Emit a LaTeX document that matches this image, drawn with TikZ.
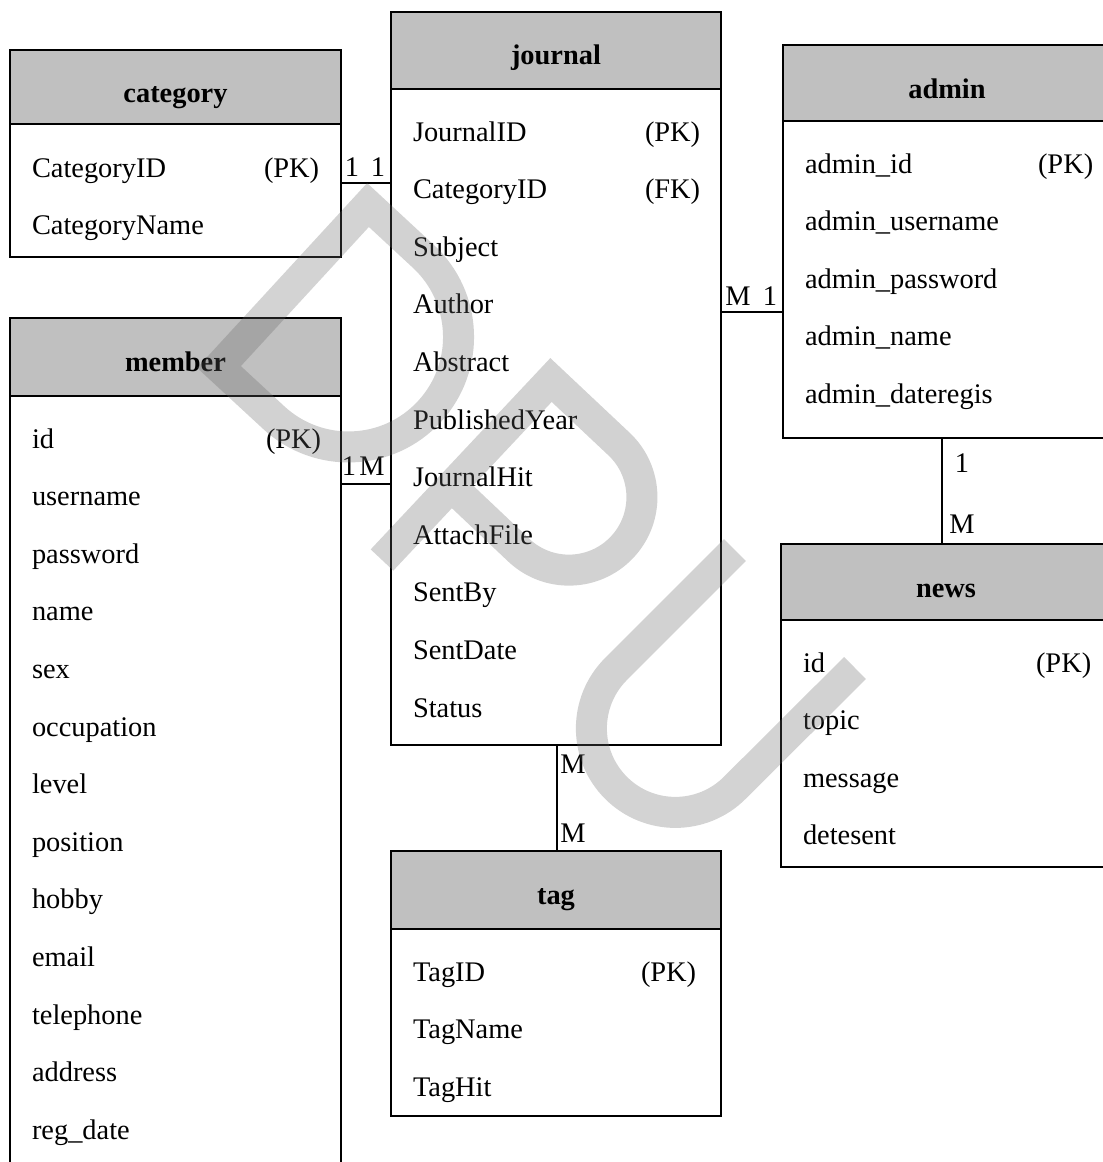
\documentclass[tikz,border=0pt]{standalone}
\usepackage{fontspec}
\setmainfont{Liberation Serif}
\usepackage{tikz}
\usetikzlibrary{positioning}

\definecolor{headgray}{RGB}{192,192,192}
\definecolor{markgray}{RGB}{102,102,102}

\begin{document}
\begin{tikzpicture}[x=1bp, y=-1bp, line width=2bp,
  every node/.style={font=\fontsize{28.5}{34}\selectfont, inner sep=0pt},
  head/.style={draw, fill=headgray, outer sep=0pt, anchor=north west},
  body/.style={draw, fill=white, outer sep=0pt},
  title/.style={anchor=base, font=\fontsize{28.5}{34}\selectfont\bfseries},
  field/.style={anchor=base west},
  card/.style={anchor=base}]
  \useasboundingbox (0,0) rectangle (1103,1162);
  \clip (0,0) rectangle (1103,1162);

  % category
  \node[head, minimum width=331bp, minimum height=74bp] (cathead) at (10,50) {};
  \node[body, minimum width=331bp, minimum height=133bp, below=0pt of cathead] (catbody) {};
  \node[title] (cattitle) at (175.5,102) {category};
  \node[field] (c1) at (31,177) {CategoryID};
  \node[field] (cpk) at (263,177) {(PK)};
  \node[field] (c2) at (31,234.6) {CategoryName};

  % journal
  \node[head, minimum width=330bp, minimum height=77bp] (jhead) at (391,12) {};
  \node[body, minimum width=330bp, minimum height=656bp, below=0pt of jhead] (jbody) {};
  \node[title] (jtitle) at (556,64) {journal};
  \node[field] (j1) at (412,141) {JournalID};
  \node[field] (jpk) at (644,141) {(PK)};
  \node[field] (j2) at (412,198.6) {CategoryID};
  \node[field] (jfk) at (644,198.6) {(FK)};
  \node[field] (j3) at (412,256.2) {Subject};
  \node[field] (j4) at (412,313.8) {Author};
  \node[field] (j5) at (412,371.4) {Abstract};
  \node[field] (j6) at (412,429) {PublishedYear};
  \node[field] (j7) at (412,486.6) {JournalHit};
  \node[field] (j8) at (412,544.2) {AttachFile};
  \node[field] (j9) at (412,601.8) {SentBy};
  \node[field] (j10) at (412,659.4) {SentDate};
  \node[field] (j11) at (412,717) {Status};

  % admin
  \node[head, minimum width=328bp, minimum height=76bp] (ahead) at (783,45) {};
  \node[body, minimum width=328bp, minimum height=317bp, below=0pt of ahead] (abody) {};
  \node[title] (atitle) at (947,98) {admin};
  \node[field] (a1) at (804,173) {admin\_id};
  \node[field] (apk) at (1037,173) {(PK)};
  \node[field] (a2) at (804,230.6) {admin\_username};
  \node[field] (a3) at (804,288.2) {admin\_password};
  \node[field] (a4) at (804,345.8) {admin\_name};
  \node[field] (a5) at (804,403.4) {admin\_dateregis};

  % member
  \node[head, minimum width=331bp, minimum height=78bp] (mhead) at (10,318) {};
  \node[body, minimum width=331bp, minimum height=800bp, below=0pt of mhead] (mbody) {};
  \node[title] (mtitle) at (175.5,371) {member};
  \node[field] (m1) at (31,448) {id};
  \node[field] (mpk) at (265,448) {(PK)};
  \node[field] (m2) at (31,505.6) {username};
  \node[field] (m3) at (31,563.2) {password};
  \node[field] (m4) at (31,620.8) {name};
  \node[field] (m5) at (31,678.4) {sex};
  \node[field] (m6) at (31,736) {occupation};
  \node[field] (m7) at (31,793.6) {level};
  \node[field] (m8) at (31,851.2) {position};
  \node[field] (m9) at (31,908.8) {hobby};
  \node[field] (m10) at (31,966.4) {email};
  \node[field] (m11) at (31,1024) {telephone};
  \node[field] (m12) at (31,1081.6) {address};
  \node[field] (m13) at (31,1139.2) {reg\_date};

  % news
  \node[head, minimum width=330bp, minimum height=76bp] (nhead) at (781,544) {};
  \node[body, minimum width=330bp, minimum height=247bp, below=0pt of nhead] (nbody) {};
  \node[title] (ntitle) at (946,597) {news};
  \node[field] (n1) at (802,672) {id};
  \node[field] (npk) at (1035,672) {(PK)};
  \node[field] (n2) at (802,729.6) {topic};
  \node[field] (n3) at (802,787.2) {message};
  \node[field] (n4) at (802,844.8) {detesent};

  % tag
  \node[head, minimum width=330bp, minimum height=78bp] (thead) at (391,851) {};
  \node[body, minimum width=330bp, minimum height=187bp, below=0pt of thead] (tbody) {};
  \node[title] (ttitle) at (556,904) {tag};
  \node[field] (t1) at (412,981) {TagID};
  \node[field] (tpk) at (640,981) {(PK)};
  \node[field] (t2) at (412,1038.6) {TagName};
  \node[field] (t3) at (412,1096.2) {TagHit};

  % relations
  \draw (catbody.east |- 0,183) -- (jbody.west |- 0,183);
  \draw (mbody.east |- 0,484) -- (jbody.west |- 0,484);
  \draw (jbody.east |- 0,312) -- (abody.west |- 0,312);
  \draw (abody.south -| 942,0) -- (nhead.north -| 942,0);
  \draw (jbody.south -| 557,0) -- (thead.north -| 557,0);

  \node[card] (cj1) at (352,176) {1};
  \node[card] (cj2) at (378,176) {1};
  \node[card] (mj1) at (349,475) {1};
  \node[card] (mj2) at (372,475) {M};
  \node[card] (ja1) at (738,305) {M};
  \node[card] (ja2) at (770,305) {1};
  \node[card] (an1) at (962,472) {1};
  \node[card] (an2) at (962,533) {M};
  \node[card] (jt1) at (573,773) {M};
  \node[card] (jt2) at (573,842) {M};

  % watermark
  \draw[markgray, line width=31bp, opacity=0.29]
    (219,367) -- (368,205) -- (423,256) arc[start angle=-47.4, end angle=132.6, radius=110] -- cycle
    (382,560) -- (551,380) -- (619,444) arc[start angle=-46.7, end angle=133.3, radius=73] -- (451,486)
    (735,550) -- (616,669) arc[start angle=225, end angle=45, radius=84] -- (855,668);
\end{tikzpicture}
\end{document}
